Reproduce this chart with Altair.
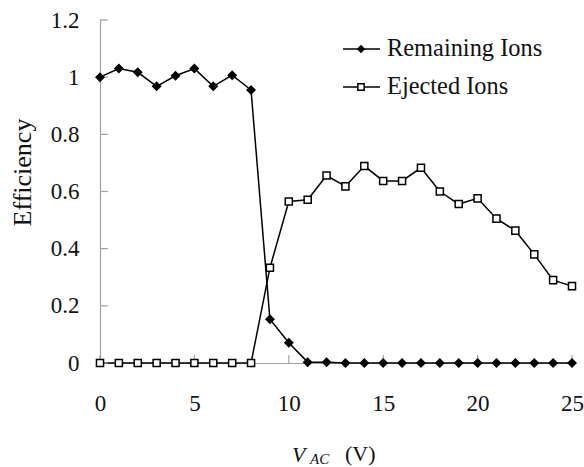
import altair as alt
import pandas as pd

v_ac = list(range(26))
remaining = [1.0, 1.03, 1.017, 0.968, 1.005, 1.03, 0.968, 1.007, 0.955, 0.153,
             0.071, 0.003, 0.003, 0.0, 0.0, 0.0, 0.0, 0.0, 0.0, 0.0,
             0.0, 0.0, 0.0, 0.0, 0.0, 0.0]
ejected = [0.0, 0.0, 0.0, 0.0, 0.0, 0.0, 0.0, 0.0, 0.0, 0.333,
           0.565, 0.571, 0.656, 0.618, 0.689, 0.637, 0.637, 0.683, 0.600, 0.556,
           0.576, 0.505, 0.463, 0.380, 0.290, 0.269]
x_ticks = [0, 5, 10, 15, 20, 25]
y_ticks = [0, 0.2, 0.4, 0.6, 0.8, 1.0, 1.2]
series_names = ["Remaining Ions", "Ejected Ions"]

FONT = "Liberation Serif"
AXIS_GRAY = "#a0a0a0"
W, H = 472, 343

df = pd.DataFrame({"v": v_ac, "remaining": remaining, "ejected": ejected})
xt = pd.DataFrame({"t": x_ticks})
yt = pd.DataFrame({"t": y_ticks})

xscale = alt.Scale(domain=[0, 25], nice=False, zero=False)
yscale = alt.Scale(domain=[0, 1.2], nice=False)

xaxis = alt.Axis(values=x_ticks, format="d", title=None, ticks=False, grid=False,
                 domainColor=AXIS_GRAY, domainWidth=1.2, labelFont=FONT,
                 labelFontSize=23, labelColor="#111", labelPadding=29,
                 labelFlush=False, labelOverlap=False)
yaxis = alt.Axis(values=y_ticks, format="~g", title="Efficiency", ticks=False, grid=False,
                 domainColor=AXIS_GRAY, domainWidth=1.2, labelFont=FONT,
                 labelFontSize=23, labelColor="#111", labelPadding=21,
                 labelFlush=False, labelOverlap=False,
                 titleFont=FONT, titleFontSize=26, titleFontWeight="normal",
                 titleColor="#111", titleY=152, titleX=-78, titleAngle=270,
                 titleAlign="center", titleBaseline="middle")

base = alt.Chart(df)

rem_line = base.mark_line(color="black", strokeWidth=1.5).encode(
    x=alt.X("v:Q", scale=xscale, axis=xaxis),
    y=alt.Y("remaining:Q", scale=yscale, axis=yaxis),
)
ej_line = base.mark_line(color="black", strokeWidth=1.5).encode(
    x=alt.X("v:Q", scale=xscale),
    y=alt.Y("ejected:Q", scale=yscale),
)
rem_pts = base.mark_point(shape="diamond", filled=True, color="black", size=100, opacity=1).encode(
    x=alt.X("v:Q", scale=xscale),
    y=alt.Y("remaining:Q", scale=yscale),
)
ej_pts = base.mark_point(shape="square", filled=True, fill="white", stroke="black",
                         strokeWidth=1.5, size=50, opacity=1).encode(
    x=alt.X("v:Q", scale=xscale),
    y=alt.Y("ejected:Q", scale=yscale),
)

ytick_marks = alt.Chart(yt).mark_rule(color=AXIS_GRAY, strokeWidth=1.2).encode(
    y=alt.Y("t:Q", scale=yscale), x=alt.value(0), x2=alt.value(8)
)
xtick_marks = alt.Chart(xt).mark_rule(color=AXIS_GRAY, strokeWidth=1.2).encode(
    x=alt.X("t:Q", scale=xscale), y=alt.value(H), y2=alt.value(H - 8)
)

one = alt.Data(values=[{"a": 1}])

# legend
leg = []
for i, (name, shape) in enumerate(zip(series_names, ["diamond", "square"])):
    yy = 29 + i * 38
    leg.append(alt.Chart(one).mark_rule(color="black", strokeWidth=1.5).encode(
        x=alt.value(243), x2=alt.value(280), y=alt.value(yy)))
    if shape == "diamond":
        leg.append(alt.Chart(one).mark_point(shape="diamond", filled=True, color="black",
                                             size=70, opacity=1).encode(
            x=alt.value(261), y=alt.value(yy)))
    else:
        leg.append(alt.Chart(one).mark_point(shape="square", filled=True, fill="white",
                                             stroke="black", strokeWidth=1.5, size=40,
                                             opacity=1).encode(
            x=alt.value(261), y=alt.value(yy)))
    leg.append(alt.Chart(one).mark_text(text=name, font=FONT, fontSize=24.4, color="#111",
                                        align="left", baseline="middle").encode(
        x=alt.value(287), y=alt.value(yy)))

# x-axis title: V_AC (V)
t_v = alt.Chart(one).mark_text(text="V", font=FONT, fontSize=22, fontStyle="italic",
                               color="#111", align="left", baseline="alphabetic").encode(
    x=alt.value(192), y=alt.value(442))
t_ac = alt.Chart(one).mark_text(text="AC", font=FONT, fontSize=15, fontStyle="italic",
                                color="#111", align="left", baseline="alphabetic").encode(
    x=alt.value(210), y=alt.value(444))
t_unit = alt.Chart(one).mark_text(text="(V)", font=FONT, fontSize=22,
                                  color="#111", align="left", baseline="alphabetic").encode(
    x=alt.value(245), y=alt.value(441))

chart = alt.layer(
    rem_line, ej_line, ytick_marks, xtick_marks, rem_pts, ej_pts, *leg, t_v, t_ac, t_unit
).properties(
    width=W, height=H,
    autosize=alt.AutoSizeParams(type="none"),
    padding={"left": 100, "top": 20, "right": 12, "bottom": 104},
    background="white",
).configure_view(stroke=None)

chart.save("out.html", embed_options={"renderer": "svg", "actions": False})
